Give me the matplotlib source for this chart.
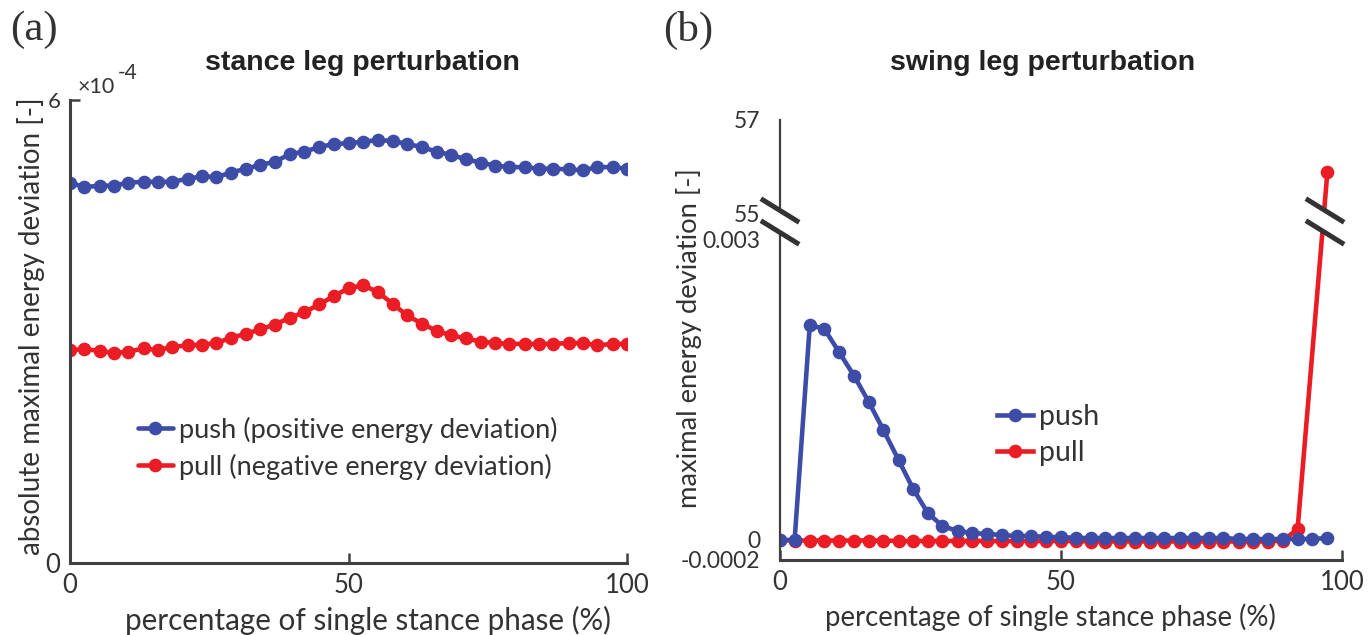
import numpy as np
import matplotlib
matplotlib.use("Agg")
import matplotlib.pyplot as plt
from matplotlib.lines import Line2D
from matplotlib.patches import Polygon

# ---------------- data ----------------
x_stance = [0.0, 2.6, 5.3, 7.9, 10.5, 13.2, 15.8, 18.4, 21.1, 23.7, 26.3, 28.9, 31.6,
            34.2, 36.8, 39.5, 42.1, 44.7, 47.4, 50.0, 52.6, 55.3, 57.9, 60.5, 63.2,
            65.8, 68.4, 71.1, 73.7, 76.3, 78.9, 81.6, 84.2, 86.8, 89.5, 92.1, 94.7,
            97.4, 100.0]
stance_push = [4.93, 4.87, 4.89, 4.89, 4.93, 4.94, 4.94, 4.94, 4.98, 5.01, 5.00, 5.06,
               5.11, 5.16, 5.20, 5.30, 5.33, 5.39, 5.43, 5.44, 5.46, 5.48, 5.47, 5.43,
               5.39, 5.33, 5.29, 5.23, 5.19, 5.15, 5.13, 5.13, 5.11, 5.11, 5.10, 5.09,
               5.13, 5.13, 5.11]
stance_pull = [2.76, 2.77, 2.75, 2.72, 2.74, 2.78, 2.76, 2.80, 2.82, 2.83, 2.85, 2.92,
               2.97, 3.03, 3.09, 3.18, 3.25, 3.35, 3.46, 3.56, 3.60, 3.51, 3.36, 3.21,
               3.10, 3.01, 2.95, 2.91, 2.87, 2.85, 2.84, 2.84, 2.84, 2.84, 2.85, 2.85,
               2.82, 2.84, 2.84]

x_swing_push = x_stance[:38]
swing_push = [0.0, 0.0, 0.00215, 0.00211, 0.00188, 0.00164, 0.00138, 0.00110, 0.00080,
              0.00051, 0.00027, 0.00014, 0.00009, 0.00007, 0.00006, 0.00005, 0.00004,
              0.00004, 0.00003, 0.00003, 0.00002, 0.00002, 0.00002, 0.00002, 0.00002,
              0.00002, 0.00002, 0.00002, 0.00002, 0.00002, 0.00002, 0.00001, 0.00001,
              0.00001, 0.00001, 0.00001, 0.00001, 0.00002]
x_swing_pull = x_stance[:36] + [x_stance[37]]
swing_pull = [0.0, -0.000005, -0.000005, -0.000005, -0.000005, -0.000005, -0.000005,
              -0.000005, -0.00001, -0.00001, -0.00001, -0.00001, -0.00001, -0.00001,
              -0.00001, -0.00001, -0.00001, -0.00001, -0.00001, -0.00001, -0.00001,
              -0.000015, -0.000015, -0.000015, -0.000015, -0.000015, -0.000015,
              -0.000015, -0.000015, -0.000015, -0.000015, -0.000015, -0.000015,
              -0.000015, -0.000005, 0.00011, 55.88]

stance_ticks_x = [0, 50, 100]
stance_ticks_y = [0, 6]
swing_ticks_y = [-0.0002, 0, 0.003, 55, 57]
swing_tick_labels = ['-0.0002', '0', '0.003', '55', '57']

# ---------------- style ----------------
W, H = 1369, 635
BLUE = '#3d4ca6'
RED = '#ec1c24'
TXT = '#333333'
SPINE = '#404040'
FONT = ['Lato', 'DejaVu Sans']
plt.rcParams['font.family'] = FONT

fig = plt.figure(figsize=(W / 100, H / 100), dpi=100)


def ax_rect(x0, x1, ytop, ybot):
    return [x0 / W, 1 - ybot / H, (x1 - x0) / W, (ybot - ytop) / H]


def P(x, y):
    return (x / W, 1 - y / H)


# ---------------- panel (a) ----------------
ax1 = fig.add_axes(ax_rect(70, 627, 100, 563))
lkw = dict(lw=3.3, marker='o', ms=8.8, solid_capstyle='round')
ax1.plot(x_stance, stance_push, color=BLUE, label='push (positive energy deviation)', **lkw)
ax1.plot(x_stance, stance_pull, color=RED, label='pull (negative energy deviation)', **lkw)
ax1.set_xlim(0, 100)
ax1.set_ylim(0, 6)
for s in ['top', 'right']:
    ax1.spines[s].set_visible(False)
for s in ['left', 'bottom']:
    ax1.spines[s].set_linewidth(2.2)
    ax1.spines[s].set_color(SPINE)
ax1.set_xticks(stance_ticks_x)
ax1.set_yticks(stance_ticks_y)
ax1.set_xticklabels([str(v) for v in stance_ticks_x])
ax1.set_yticklabels([str(v) for v in stance_ticks_y])
ax1.tick_params(direction='in', length=7, width=1.8, color=SPINE, labelsize=18.5,
                labelcolor=TXT, pad=7)
ax1.yaxis.get_ticklabels()[1].set_fontsize(16)
ax1.text(0.013, 1.006, '×10', transform=ax1.transAxes, fontsize=15.5, color=TXT,
         ha='left', va='bottom')
ax1.text(0.086, 1.036, '-4', transform=ax1.transAxes, fontsize=15, color=TXT,
         ha='left', va='bottom')
ax1.legend(loc='center left', bbox_to_anchor=P(138, 448), bbox_transform=fig.transFigure,
           frameon=False, fontsize=19.6, handlelength=1.27, handletextpad=0.22,
           labelspacing=0.4, borderpad=0, borderaxespad=0, labelcolor=TXT)

fig.text(*P(362, 63), 'stance leg perturbation', ha='center', va='center',
         fontsize=20.5, fontweight='bold', family=['Liberation Sans', 'DejaVu Sans'],
         color='#222222')
fig.text(*P(31, 326), 'absolute maximal energy deviation [-]', rotation=90,
         ha='center', va='center', fontsize=20, color=TXT)
fig.text(*P(368, 620), 'percentage of single stance phase (%)', ha='center',
         va='center', fontsize=21.3, color=TXT)
fig.text(*P(34, 30), '(a)', ha='center', va='center', fontsize=31,
         family=['Liberation Serif', 'DejaVu Serif'], color='#333333')

# ---------------- panel (b) ----------------
YMIN, B0, B1, YMAX = -0.0002, 0.003, 55.0, 57.0
LOW_H, GAP_H, UP_H = 320.0, 27.0, 93.0


def fwd(y):
    y = np.asarray(y, dtype=float)
    return np.where(y <= B0, (y - YMIN) / (B0 - YMIN) * LOW_H,
                    np.where(y < B1, LOW_H + (y - B0) / (B1 - B0) * GAP_H,
                             LOW_H + GAP_H + (y - B1) / (YMAX - B1) * UP_H))


def inv(t):
    t = np.asarray(t, dtype=float)
    return np.where(t <= LOW_H, YMIN + t / LOW_H * (B0 - YMIN),
                    np.where(t < LOW_H + GAP_H, B0 + (t - LOW_H) / GAP_H * (B1 - B0),
                             B1 + (t - LOW_H - GAP_H) / UP_H * (YMAX - B1)))


ax2 = fig.add_axes(ax_rect(780, 1342, 120, 560))
ax2.set_yscale('function', functions=(fwd, inv))
ax2.plot(x_swing_pull, swing_pull, color=RED, **lkw)
ax2.plot(x_swing_push, swing_push, color=BLUE, **lkw)
ax2.set_xlim(0, 100)
ax2.set_ylim(YMIN, YMAX)
for s in ['top', 'right']:
    ax2.spines[s].set_visible(False)
ax2.spines['left'].set_linewidth(1.6)
ax2.spines['bottom'].set_linewidth(2.2)
for s in ['left', 'bottom']:
    ax2.spines[s].set_color(SPINE)
ax2.set_xticks(stance_ticks_x)
ax2.set_xticklabels([str(v) for v in stance_ticks_x])
ax2.set_yticks(swing_ticks_y)
ax2.set_yticklabels(swing_tick_labels)
ax2.yaxis.set_minor_locator(matplotlib.ticker.NullLocator())
ax2.tick_params(axis='x', direction='in', length=7, width=1.8, color=SPINE,
                labelsize=18.5, labelcolor=TXT, pad=7)
ax2.tick_params(axis='y', length=0, labelsize=16.5, labelcolor=TXT, pad=14)

handles = [Line2D([], [], color=BLUE, lw=3.3, marker='o', ms=8.8),
           Line2D([], [], color=RED, lw=3.3, marker='o', ms=8.8)]
ax2.legend(handles, ['push', 'pull'], loc='center left', bbox_to_anchor=P(997, 435),
           bbox_transform=fig.transFigure, frameon=False, fontsize=20.5,
           handlelength=1.25, handletextpad=0.22, labelspacing=0.36, borderpad=0,
           borderaxespad=0, labelcolor=TXT)

# axis-break marks (drawn in figure pixel space)
for cx in (780, 1325):
    mask = Polygon([P(cx - 17, 201), P(cx + 17, 223), P(cx + 17, 243), P(cx - 17, 222)],
                   closed=True, transform=fig.transFigure, facecolor='white',
                   edgecolor='none', zorder=10)
    fig.add_artist(mask)
    for dy in (0, 22):
        fig.add_artist(Line2D([(cx - 17) / W, (cx + 17) / W],
                              [1 - (200 + dy) / H, 1 - (221 + dy) / H],
                              color='#333333', lw=3.6, transform=fig.transFigure,
                              zorder=11))

fig.text(*P(1043, 63), 'swing leg perturbation', ha='center', va='center',
         fontsize=20.5, fontweight='bold', family=['Liberation Sans', 'DejaVu Sans'],
         color='#222222')
fig.text(*P(689, 338), 'maximal energy deviation [-]', rotation=90,
         ha='center', va='center', fontsize=19.7, color=TXT)
fig.text(*P(1050, 617), 'percentage of single stance phase (%)', ha='center',
         va='center', fontsize=19.8, color=TXT)
fig.text(*P(688, 30), '(b)', ha='center', va='center', fontsize=31,
         family=['Liberation Serif', 'DejaVu Serif'], color='#333333')

fig.savefig('out.png', dpi=100)
